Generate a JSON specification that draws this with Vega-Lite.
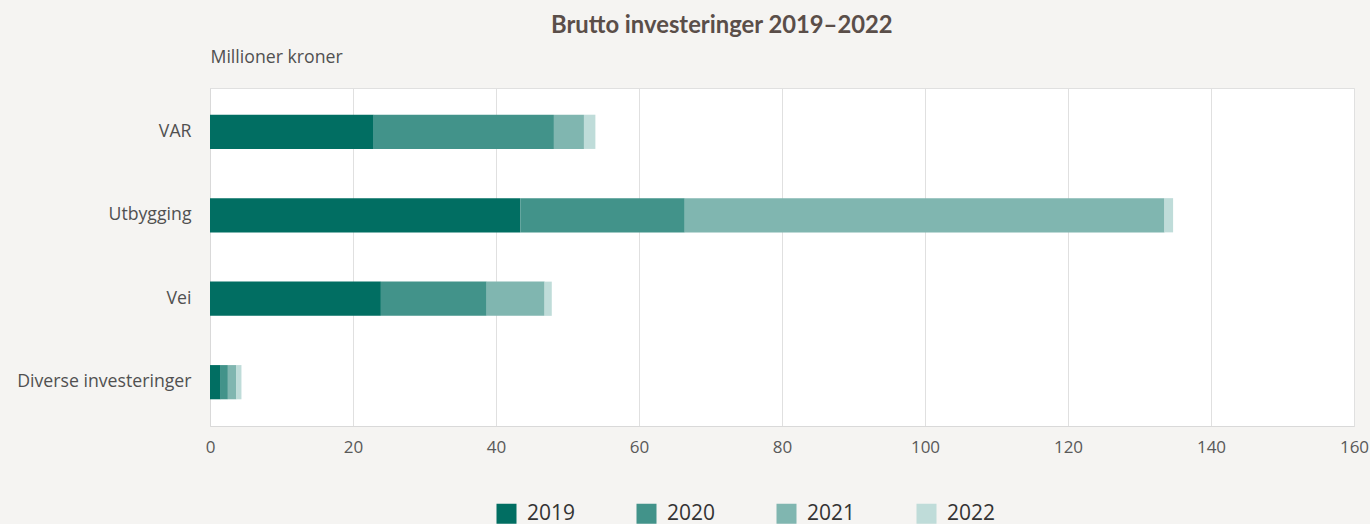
{
  "$schema": "https://vega.github.io/schema/vega-lite/v6.json",
  "autosize": {"type": "none"},
  "padding": {"left": 210, "top": 88, "right": 16, "bottom": 99},
  "width": 1144,
  "height": 338,
  "background": "#f5f4f2",
  "title": {
    "text": "Brutto investeringer 2019–2022",
    "anchor": "start",
    "frame": "group",
    "dx": 341,
    "offset": 10,
    "font": "Lato",
    "fontSize": 23.8,
    "fontWeight": "bold",
    "color": "#5a4e49"
  },
  "config": {
    "font": "Open Sans",
    "view": {"fill": "white", "stroke": "#e0e0e0"}
  },
  "data": {
    "values": [
      {"kategori": "VAR", "år": "2019", "verdi": 22.9},
      {"kategori": "VAR", "år": "2020", "verdi": 25.2},
      {"kategori": "VAR", "år": "2021", "verdi": 4.2},
      {"kategori": "VAR", "år": "2022", "verdi": 1.6},
      {"kategori": "Utbygging", "år": "2019", "verdi": 43.4},
      {"kategori": "Utbygging", "år": "2020", "verdi": 23.0},
      {"kategori": "Utbygging", "år": "2021", "verdi": 67.1},
      {"kategori": "Utbygging", "år": "2022", "verdi": 1.2},
      {"kategori": "Vei", "år": "2019", "verdi": 23.9},
      {"kategori": "Vei", "år": "2020", "verdi": 14.8},
      {"kategori": "Vei", "år": "2021", "verdi": 8.1},
      {"kategori": "Vei", "år": "2022", "verdi": 1.0},
      {"kategori": "Diverse investeringer", "år": "2019", "verdi": 1.5},
      {"kategori": "Diverse investeringer", "år": "2020", "verdi": 1.0},
      {"kategori": "Diverse investeringer", "år": "2021", "verdi": 1.2},
      {"kategori": "Diverse investeringer", "år": "2022", "verdi": 0.7}
    ]
  },
  "mark": {"type": "bar"},
  "encoding": {
    "y": {
      "field": "kategori",
      "type": "nominal",
      "sort": ["VAR", "Utbygging", "Vei", "Diverse investeringer"],
      "scale": {"paddingInner": 0.59, "paddingOuter": 0.32},
      "axis": {
        "title": "Millioner kroner",
        "titleAngle": 0,
        "titleX": 0,
        "titleY": -31,
        "titleAlign": "left",
        "titleBaseline": "middle",
        "titleFont": "Open Sans",
        "titleFontSize": 17.7,
        "titleFontWeight": "normal",
        "titleColor": "#505050",
        "labelFont": "Open Sans",
        "labelFontSize": 17.7,
        "labelColor": "#505050",
        "labelPadding": 19,
        "ticks": false,
        "domain": true,
        "domainColor": "#d9d9d9",
        "grid": false
      }
    },
    "x": {
      "field": "verdi",
      "type": "quantitative",
      "stack": "zero",
      "scale": {"domain": [0, 160], "nice": false},
      "axis": {
        "title": null,
        "values": [0, 20, 40, 60, 80, 100, 120, 140, 160],
        "labelFont": "Open Sans",
        "labelFontSize": 17,
        "labelColor": "#595959",
        "labelPadding": 13,
        "labelFlush": false,
        "ticks": false,
        "domain": true,
        "domainColor": "#d9d9d9",
        "grid": true,
        "gridColor": "#e0e0e0"
      }
    },
    "color": {
      "field": "år",
      "type": "nominal",
      "scale": {
        "domain": ["2019", "2020", "2021", "2022"],
        "range": ["#016e62", "#42938a", "#80b6b0", "#bfdcd9"]
      },
      "legend": {
        "title": null,
        "orient": "none",
        "legendX": 286,
        "legendY": 415,
        "direction": "horizontal",
        "symbolType": "square",
        "symbolSize": 400,
        "symbolStrokeWidth": 0,
        "labelFont": "Open Sans",
        "labelFontSize": 21,
        "labelColor": "#333333",
        "labelOffset": 10,
        "columnPadding": 60
      }
    },
    "order": {"field": "år", "type": "ordinal"}
  }
}
